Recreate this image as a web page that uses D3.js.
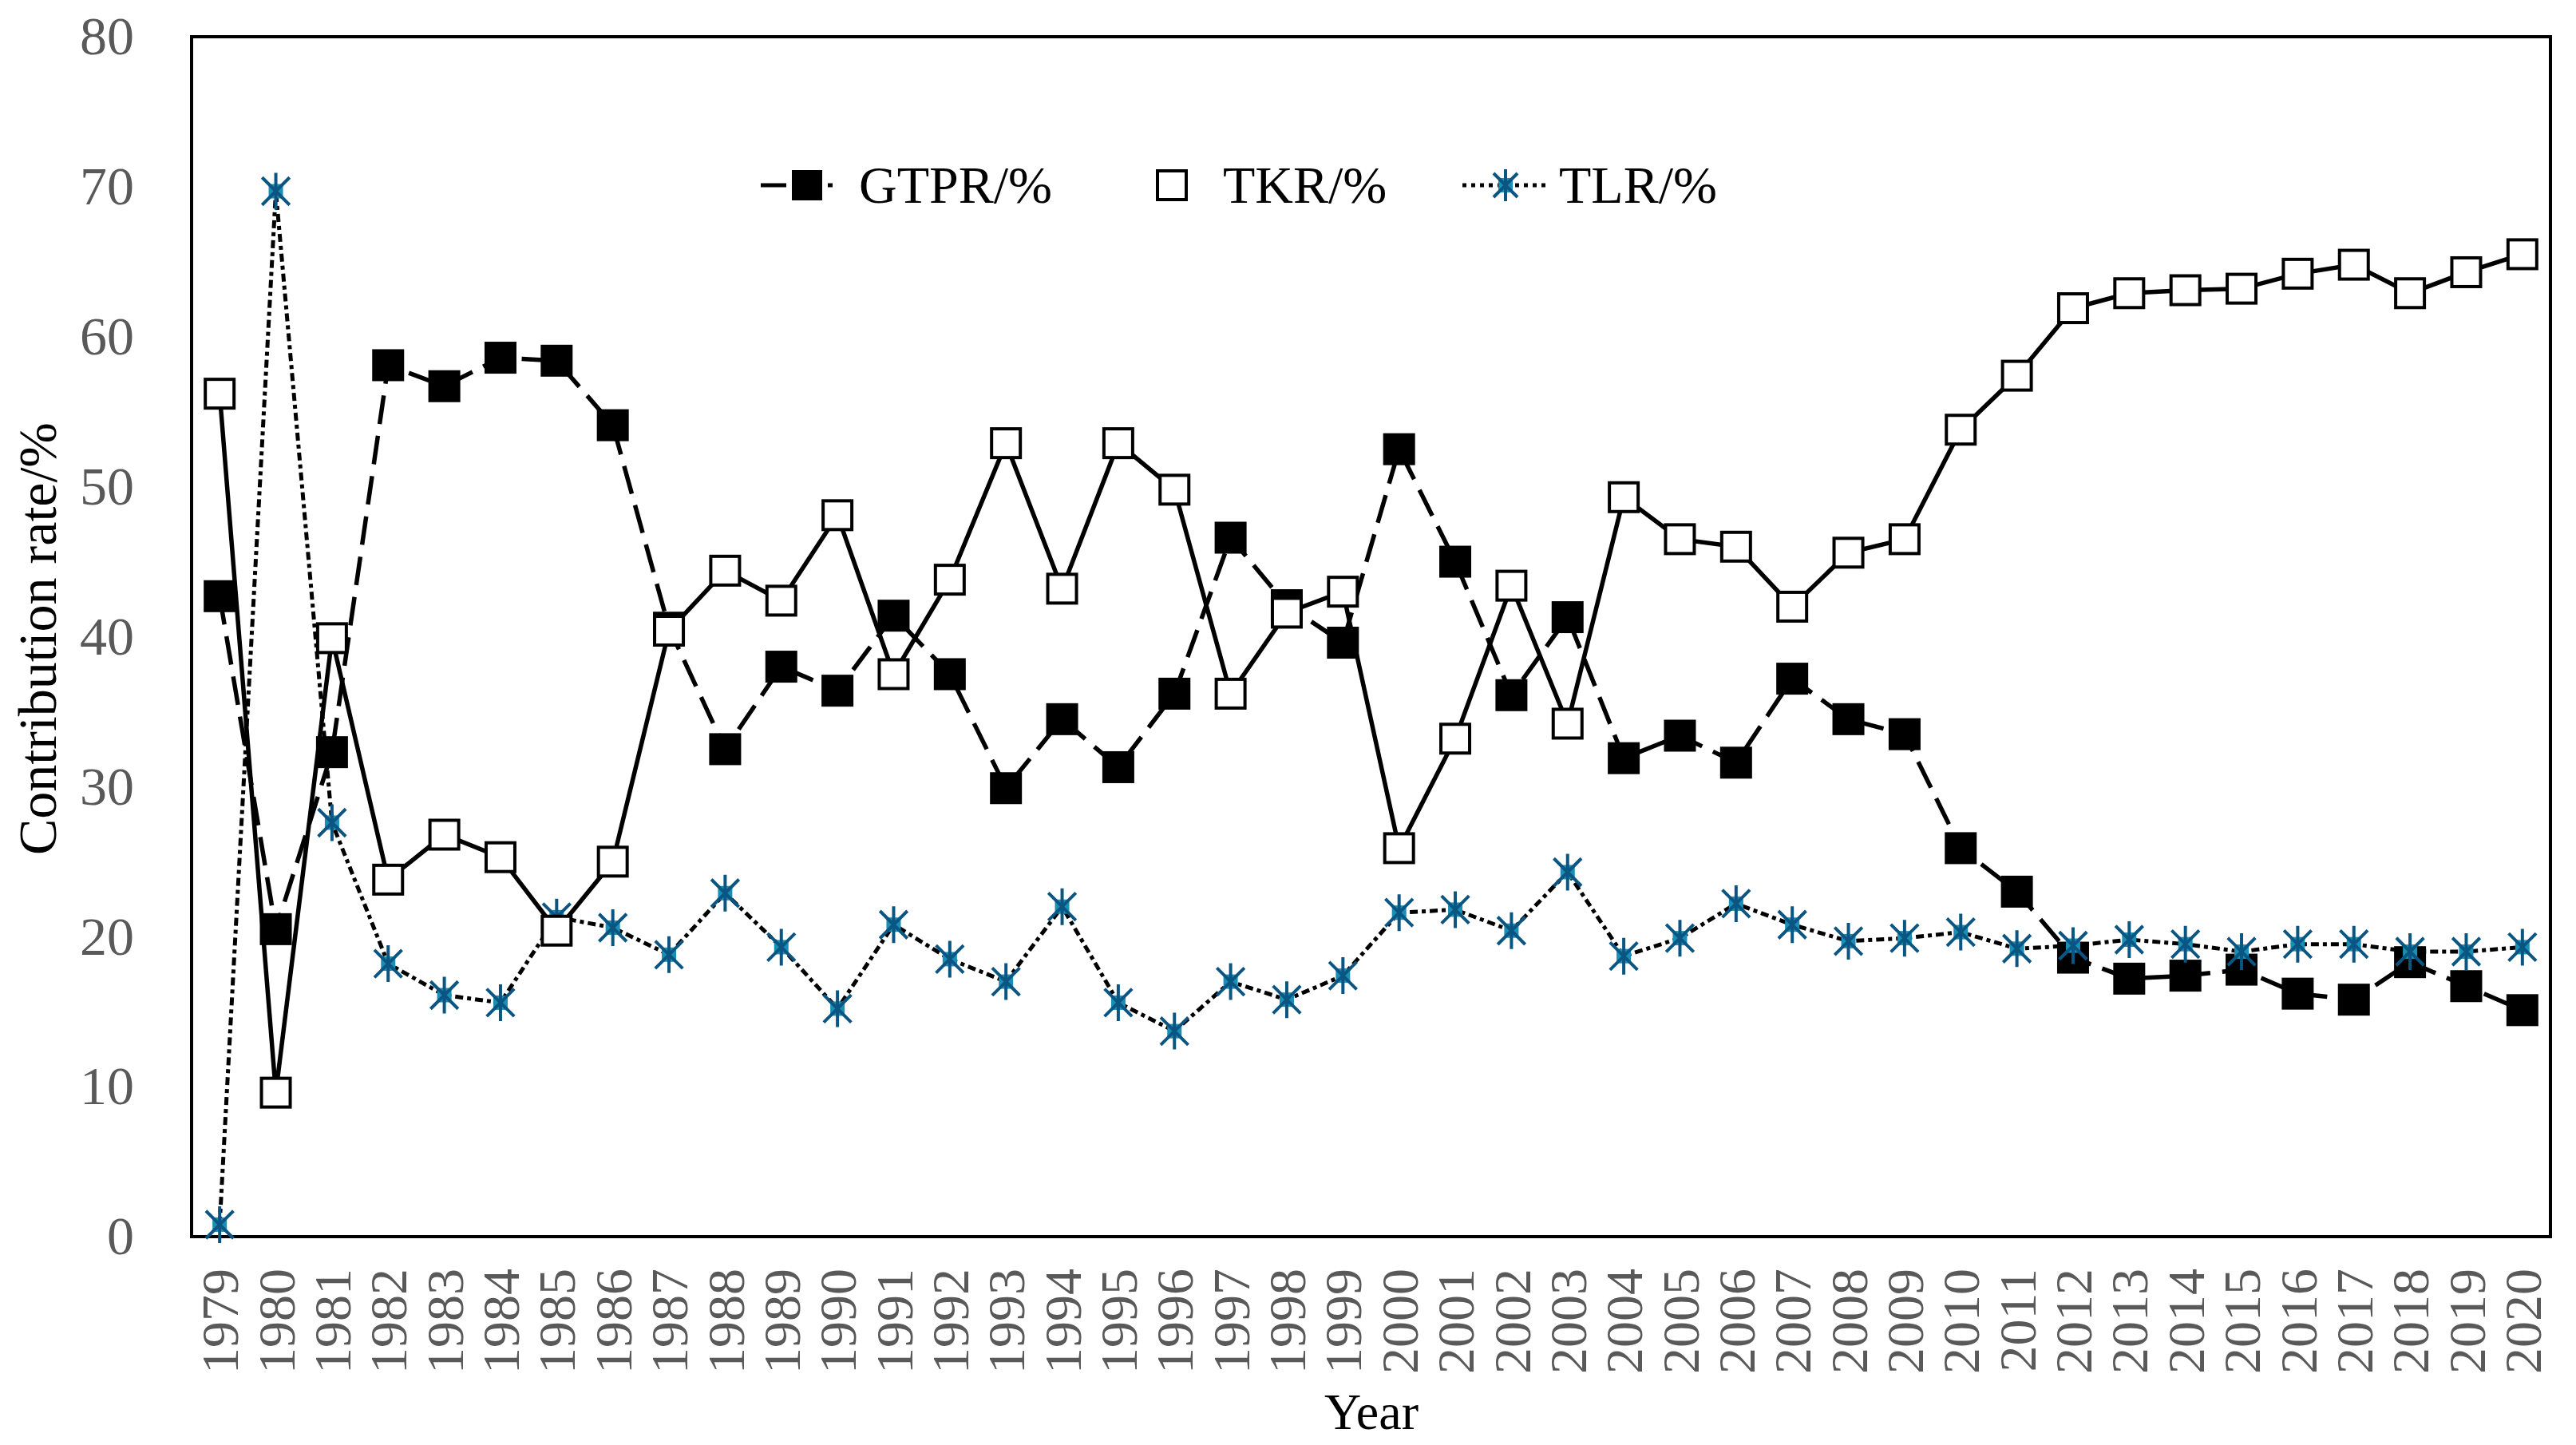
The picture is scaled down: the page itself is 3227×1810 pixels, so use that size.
<!DOCTYPE html>
<html>
<head>
    <meta charset="utf-8">
    <title>Contribution rate</title>
    <script src="https://cdnjs.cloudflare.com/ajax/libs/d3/7.8.5/d3.min.js"></script>
    <style>
        body {
            margin: 0;
            background: white;
            font-family: "Liberation Serif", "DejaVu Serif", serif;
        }
        #chart {
            width: 3227px;
            height: 1810px;
        }
    </style>
</head>
<body>
    <div id="chart"></div>

    <script>
        const years = d3.range(1979, 2021).map(String);

        const gtpr = [42.7, 20.5, 32.3, 58.1, 56.7, 58.6, 58.4, 54.1, 40.6, 32.5,
                      38.0, 36.4, 41.4, 37.5, 29.9, 34.5, 31.3, 36.2, 46.6, 42.1,
                      39.6, 52.5, 45.0, 36.1, 41.3, 31.9, 33.4, 31.6, 37.2, 34.5,
                      33.5, 25.9, 23.0, 18.6, 17.2, 17.4, 17.8, 16.2, 15.8, 18.3,
                      16.7, 15.1];
        const tkr = [56.2, 9.6, 39.9, 23.8, 26.8, 25.3, 20.4, 25.0, 40.4, 44.4,
                     42.4, 48.1, 37.5, 43.8, 52.9, 43.2, 52.9, 49.8, 36.2, 41.6,
                     43.0, 25.9, 33.2, 43.4, 34.2, 49.3, 46.5, 46.0, 42.0, 45.6,
                     46.5, 53.8, 57.4, 61.9, 62.9, 63.1, 63.2, 64.2, 64.8, 62.9,
                     64.3, 65.5];
        const tlr = [0.8, 69.7, 27.6, 18.2, 16.1, 15.6, 21.3, 20.6, 18.8, 22.9,
                     19.3, 15.2, 20.8, 18.5, 17.0, 22.0, 15.6, 13.7, 17.0, 15.8,
                     17.4, 21.6, 21.8, 20.4, 24.3, 18.7, 19.9, 22.2, 20.8, 19.7,
                     19.9, 20.3, 19.2, 19.4, 19.8, 19.5, 19.0, 19.5, 19.5, 19.0,
                     19.0, 19.3];

        const yTicks = [0, 10, 20, 30, 40, 50, 60, 70, 80];
        const seriesNames = ["GTPR/%", "TKR/%", "TLR/%"];

        const width = 3227, height = 1810;
        const plotLeft = 240, plotRight = 3195, plotTop = 46, plotBottom = 1549;
        const blue = "#0b5583";

        const svg = d3.select("#chart").append("svg")
            .attr("width", width)
            .attr("height", height);

        const x = d3.scaleBand().domain(years).range([plotLeft, plotRight]);
        const y = d3.scaleLinear().domain([0, 80]).range([plotBottom, plotTop]);
        const cx = d => x(d.year) + x.bandwidth() / 2;

        const toPoints = vals => vals.map((v, i) => ({ year: years[i], v }));

        // axes: labels only, frame drawn separately
        const yAxis = svg.append("g")
            .attr("transform", `translate(${plotLeft - 72},0)`)
            .call(d3.axisLeft(y).tickValues(yTicks).tickSize(0).tickPadding(0));
        yAxis.select(".domain").remove();
        yAxis.selectAll("text")
            .attr("font-family", "Liberation Serif")
            .attr("font-size", 68)
            .attr("fill", "#595959");

        const xAxis = svg.append("g")
            .attr("transform", `translate(0,${plotBottom})`)
            .call(d3.axisBottom(x).tickSize(0));
        xAxis.select(".domain").remove();
        xAxis.selectAll("text")
            .attr("font-family", "Liberation Serif")
            .attr("font-size", 66)
            .attr("fill", "#595959")
            .attr("text-anchor", "end")
            .attr("dy", "0.35em")
            .attr("transform", "translate(0,40) rotate(-90)")
            .attr("y", 0)
            .attr("x", 0);

        svg.append("rect")
            .attr("x", plotLeft).attr("y", plotTop)
            .attr("width", plotRight - plotLeft).attr("height", plotBottom - plotTop)
            .attr("fill", "none")
            .attr("stroke", "black")
            .attr("stroke-width", 4);

        svg.append("text")
            .attr("transform", "translate(70,800) rotate(-90)")
            .attr("text-anchor", "middle")
            .attr("font-size", 68)
            .text("Contribution rate/%");

        svg.append("text")
            .attr("x", 1718).attr("y", 1790)
            .attr("text-anchor", "middle")
            .attr("font-size", 64)
            .text("Year");

        const line = d3.line().x(cx).y(d => y(d.v));

        function asterisk(g, size) {
            const r = size / 2;
            g.append("rect")
                .attr("x", -9).attr("y", -9).attr("width", 18).attr("height", 18)
                .attr("fill", "#1a8fb5");
            g.append("path")
                .attr("d", `M0,${-r}V${r}M${-r * 0.75},${-r * 0.75}L${r * 0.75},${r * 0.75}M${-r * 0.75},${r * 0.75}L${r * 0.75},${-r * 0.75}`)
                .attr("stroke", blue)
                .attr("stroke-width", 4)
                .attr("fill", "none");
        }

        // GTPR
        const gData = toPoints(gtpr);
        svg.append("path")
            .datum(gData)
            .attr("d", line)
            .attr("fill", "none")
            .attr("stroke", "black")
            .attr("stroke-width", 5.5)
            .attr("stroke-dasharray", "36,15");
        svg.append("g").selectAll("rect")
            .data(gData)
            .join("rect")
            .attr("x", d => cx(d) - 20)
            .attr("y", d => y(d.v) - 20)
            .attr("width", 40).attr("height", 40)
            .attr("fill", "black");

        // TLR
        const lData = toPoints(tlr);
        svg.append("path")
            .datum(lData)
            .attr("d", line)
            .attr("fill", "none")
            .attr("stroke", "black")
            .attr("stroke-width", 5)
            .attr("stroke-dasharray", "10,5,5,5");
        svg.append("g").selectAll("g")
            .data(lData)
            .join("g")
            .attr("transform", d => `translate(${cx(d)},${y(d.v)})`)
            .each(function () { asterisk(d3.select(this), 46); });

        // TKR
        const kData = toPoints(tkr);
        svg.append("path")
            .datum(kData)
            .attr("d", line)
            .attr("fill", "none")
            .attr("stroke", "black")
            .attr("stroke-width", 5.5);
        svg.append("g").selectAll("rect")
            .data(kData)
            .join("rect")
            .attr("x", d => cx(d) - 18)
            .attr("y", d => y(d.v) - 18)
            .attr("width", 36).attr("height", 36)
            .attr("fill", "white")
            .attr("stroke", "black")
            .attr("stroke-width", 4);

        // legend
        const legY = 232;
        const leg = svg.append("g").attr("font-size", 66);

        leg.append("line")
            .attr("x1", 953).attr("x2", 1043).attr("y1", legY).attr("y2", legY)
            .attr("stroke", "black").attr("stroke-width", 5)
            .attr("stroke-dasharray", "32,10");
        leg.append("rect")
            .attr("x", 992).attr("y", legY - 19).attr("width", 38).attr("height", 38)
            .attr("fill", "black");
        leg.append("text").attr("x", 1076).attr("y", legY + 22).text(seriesNames[0]);

        leg.append("rect")
            .attr("x", 1450).attr("y", legY - 18).attr("width", 36).attr("height", 36)
            .attr("fill", "white").attr("stroke", "black").attr("stroke-width", 4);
        leg.append("text").attr("x", 1532).attr("y", legY + 22).text(seriesNames[1]);

        leg.append("line")
            .attr("x1", 1832).attr("x2", 1940).attr("y1", legY).attr("y2", legY)
            .attr("stroke", "black").attr("stroke-width", 5)
            .attr("stroke-dasharray", "5,6");
        asterisk(leg.append("g").attr("transform", `translate(1886,${legY})`), 40);
        leg.append("text").attr("x", 1953).attr("y", legY + 22).text(seriesNames[2]);
    </script>
</body>
</html>
